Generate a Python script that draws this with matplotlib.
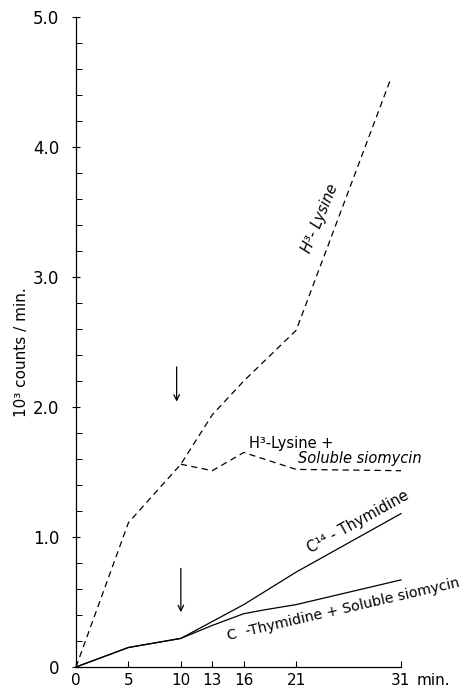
import matplotlib
matplotlib.use("Agg")
import matplotlib.pyplot as plt

# ---- data ----
time_lys = [0, 5, 10, 13, 16, 21, 30]
lys = [0, 1.11, 1.56, 1.94, 2.2, 2.59, 4.52]

time_lys_sio = [10, 13, 16, 21, 31]
lys_sio = [1.56, 1.51, 1.65, 1.52, 1.51]

time_thy = [0, 5, 10, 13, 16, 21, 31]
thy = [0, 0.15, 0.22, 0.35, 0.48, 0.73, 1.18]

time_thy_sio = [0, 5, 10, 13, 16, 18, 21, 31]
thy_sio = [0, 0.15, 0.22, 0.32, 0.41, 0.44, 0.48, 0.67]

x_ticks = [0, 5, 10, 13, 16, 21, 31]
x_ticklabels = ["0", "5", "10", "13", "16", "21", "31"]
y_ticks = [0, 1, 2, 3, 4, 5]
y_ticklabels = ["0", "1.0", "2.0", "3.0", "4.0", "5.0"]

plt.rcParams['font.family'] = ['DejaVu Sans']
W, H = 467, 688
fig = plt.figure(figsize=(W / 100, H / 100), dpi=100)
ax = fig.add_axes([76 / W, 21 / H, (401 - 76) / W, (667 - 17) / H])

lw = 0.9
dash = (0, (5, 3.5))
ax.plot(time_lys, lys, color='black', lw=lw, ls=dash, clip_on=False)
ax.plot(time_lys_sio, lys_sio, color='black', lw=lw, ls=dash, clip_on=False)
ax.plot(time_thy, thy, color='black', lw=lw, clip_on=False)
ax.plot(time_thy_sio, thy_sio, color='black', lw=lw, clip_on=False)

ax.set_xlim(0, 31)
ax.set_ylim(0, 5)
for s in ['top', 'right']:
    ax.spines[s].set_visible(False)
for s in ['left', 'bottom']:
    ax.spines[s].set_linewidth(0.9)

ax.set_xticks(x_ticks)
ax.set_xticklabels(x_ticklabels, fontsize=11)
ax.set_yticks(y_ticks)
ax.set_yticklabels(y_ticklabels, fontsize=12)
ax.set_yticks([v / 5 for v in range(26)], minor=True)
ax.tick_params(axis='x', direction='in', length=4, width=0.8, pad=4)
ax.tick_params(axis='y', which='major', direction='inout', length=6, width=0.8, pad=9)
ax.tick_params(axis='y', which='minor', direction='in', length=4, width=0.7)

ax.annotate("min.", xy=(31, 0), xytext=(11, -4), textcoords='offset points',
            ha='left', va='top', fontsize=11)

fig.text(22 / W, 1 - 352 / H, "10³ counts / min.", rotation=90,
         ha='center', va='center', fontsize=11)

# arrows
ax.annotate("", xy=(9.6, 2.02), xytext=(9.6, 2.33),
            arrowprops=dict(arrowstyle='->', lw=0.9, color='black'))
ax.annotate("", xy=(10, 0.40), xytext=(10, 0.78),
            arrowprops=dict(arrowstyle='->', lw=0.9, color='black'))

# curve labels
ax.text(23.3, 3.45, "H³- Lysine", rotation=67.6, rotation_mode='anchor',
        ha='center', va='center', fontsize=10.5, style='italic')
ax.text(20.5, 1.72, "H³-Lysine +", ha='center', va='center', fontsize=10.5)
ax.text(27.1, 1.60, "Soluble siomycin", ha='center', va='center',
        fontsize=10.5, style='italic')
ax.text(26.9, 1.12, "C¹⁴ - Thymidine", rotation=29, rotation_mode='anchor',
        ha='center', va='center', fontsize=10.5)
ax.text(25.5, 0.44, "C  -Thymidine + Soluble siomycin", rotation=13,
        rotation_mode='anchor', ha='center', va='center', fontsize=10.2)

fig.savefig("out.png", dpi=100)
